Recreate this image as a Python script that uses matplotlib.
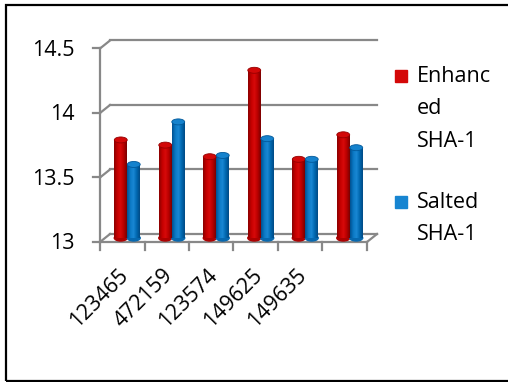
"""
Enhanced vs salted SHA-1, pseudo-3D cylinder columns.
"""

import numpy as np
import matplotlib
matplotlib.use("Agg")
from matplotlib import pyplot as plt
from matplotlib.colors import LinearSegmentedColormap
from matplotlib.patches import Ellipse, Rectangle
from matplotlib.lines import Line2D
from matplotlib.transforms import ScaledTranslation, IdentityTransform

categories = ["123465", "472159", "123574", "149625", "149635", ""]
enhanced = [13.76, 13.72, 13.63, 14.30, 13.61, 13.80]
salted = [13.57, 13.90, 13.64, 13.77, 13.61, 13.70]
series_names = ["Enhanc\ned\nSHA-1", "Salted\nSHA-1"]
yticks = [13, 13.5, 14, 14.5]

red_cmap = LinearSegmentedColormap.from_list(
    "cyl_red", ["#8a0000", "#c40000", "#d80a0a", "#b80000", "#7a0000"])
blue_cmap = LinearSegmentedColormap.from_list(
    "cyl_blue", ["#00508f", "#0a78c4", "#1a88d4", "#0068b0", "#004a85"])
grid_col = "#888888"

plt.rcParams["font.family"] = ["Open Sans", "DejaVu Sans"]
fs = 15.5

W, H = 508, 382
fig = plt.figure(figsize=(W / 100, H / 100), dpi=100)

# axes sits at the depth of the columns; walls are shifted from it
ax = fig.add_axes([105 / W, (H - 238) / H, 267 / W, 193.5 / H])
ax.set_xlim(-0.5, len(categories) - 0.5)
ax.set_ylim(yticks[0], yticks[-1])
ax.axis("off")

front = ax.transData + ScaledTranslation(-5 / 100, -4 / 100,
                                         fig.dpi_scale_trans)
back = ax.transData + ScaledTranslation(5 / 100, 4 / 100,
                                        fig.dpi_scale_trans)

x0, x1 = ax.get_xlim()
lw = 1.6


def disp(x, y, dx, dy):
    px, py = ax.transData.transform((x, y))
    return px + dx, py + dy


def seg(p, q, **kw):
    fig.add_artist(Line2D([p[0], q[0]], [p[1], q[1]],
                          transform=IdentityTransform(), **kw))


# back wall gridlines + side wall diagonals
for v in yticks:
    ax.plot([x0, x1], [v, v], color=grid_col, lw=lw, transform=back,
            clip_on=False, zorder=1)
    seg(disp(x0, v, -5, -4), disp(x0, v, 5, 4), color=grid_col, lw=lw)
    # y ticks on front edge
    seg(disp(x0, v, -5, -4), disp(x0, v, -12, -4), color=grid_col, lw=lw)
    ax.text(x0, v, f"{v:g}", transform=front + ScaledTranslation(
        -25 / 100, -2 / 100, fig.dpi_scale_trans),
        ha="right", va="center", fontsize=fs)

# floor edges and front vertical axis
ax.plot([x0, x1], [yticks[0]] * 2, color=grid_col, lw=lw, transform=front,
        clip_on=False, zorder=1)
ax.plot([x0, x0], [yticks[0], yticks[-1]], color=grid_col, lw=lw,
        transform=front, clip_on=False, zorder=1)
seg(disp(x1, yticks[0], -5, -4), disp(x1, yticks[0], 5, 4),
    color=grid_col, lw=lw)

# category ticks and labels
for i in range(len(categories) + 1):
    seg(disp(i - 0.5, yticks[0], -5, -4), disp(i - 0.5, yticks[0], -5, -12),
        color=grid_col, lw=lw)
for i, lab in enumerate(categories):
    ax.text(i, yticks[0], lab, transform=front + ScaledTranslation(
        3 / 100, -30 / 100, fig.dpi_scale_trans),
        rotation=45, rotation_mode="anchor", ha="right", va="center",
        fontsize=fs)

# cylinders
x = np.arange(len(categories))
bw = 0.29
off = 0.146
ell_h = 6 / 129
grad = np.linspace(0, 1, 64)[None, :]
for vals, dx, cmap in [(enhanced, -off, red_cmap), (salted, off, blue_cmap)]:
    bars = ax.bar(x + dx, np.array(vals) - yticks[0], bw, bottom=yticks[0],
                  color=cmap(0.4), zorder=3, clip_on=False)
    for b, v in zip(bars, vals):
        bx = b.get_x()
        ax.add_patch(Ellipse((bx + bw / 2, yticks[0]), bw, ell_h,
                             color=cmap(0.15), zorder=2.9, clip_on=False))
        im = ax.imshow(grad, extent=[bx, bx + bw, yticks[0], v],
                       aspect="auto", cmap=cmap, zorder=3.1,
                       interpolation="bilinear")
        im.set_clip_path(b)
        ax.add_patch(Ellipse((bx + bw / 2, v), bw, ell_h,
                             facecolor=cmap(0.55), edgecolor=cmap(0.05),
                             lw=0.6, zorder=3.2, clip_on=False))

ax.set_xlim(-0.5, len(categories) - 0.5)
ax.set_ylim(yticks[0], yticks[-1])

# legend, one text line at a time
line_gap = 32.5
entries = [(series_names[0], red_cmap, 82), (series_names[1], blue_cmap, 208)]
for name, cmap, yb in entries:
    fig.add_artist(Rectangle((395 / W, (H - yb) / H), 12 / W, 12 / H,
                             transform=fig.transFigure,
                             color=cmap(0.45)))
    for k, line in enumerate(name.split("\n")):
        fig.text(417 / W, (H - yb - k * line_gap) / H, line, fontsize=fs,
                 ha="left", va="baseline")

# outer frame
fig.add_artist(Rectangle((6 / W, 1 / H), 1.2, (381 - 5) / H,
                         transform=fig.transFigure, fill=False,
                         edgecolor="black", lw=1.6))

fig.savefig("out.png", dpi=100)
